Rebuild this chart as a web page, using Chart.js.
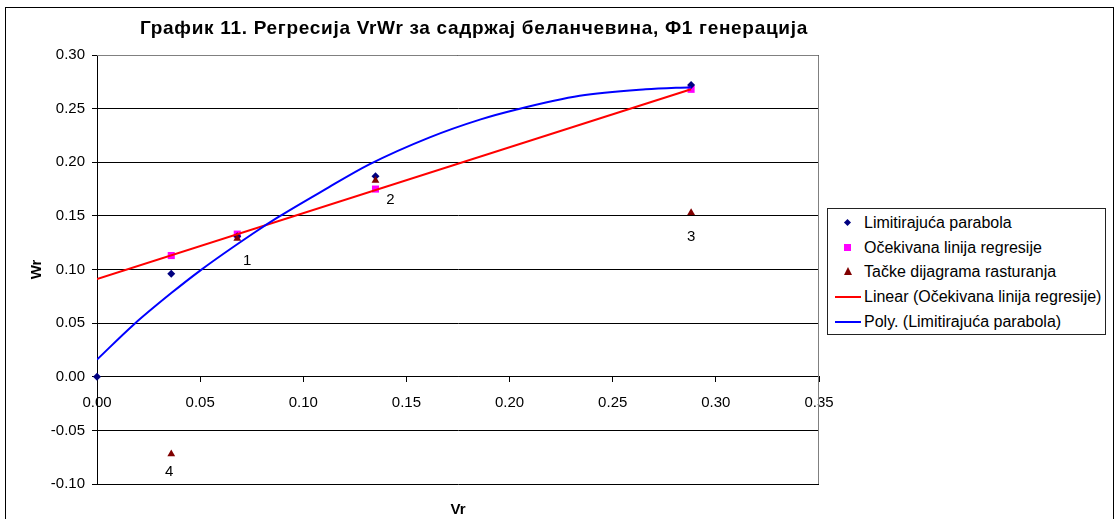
<!DOCTYPE html>
<html>
<head>
<meta charset="utf-8">
<script src="https://cdn.jsdelivr.net/npm/chart.js@4/dist/chart.umd.min.js"></script>
<style>
  body { margin: 0; background: #fff; font-family: Arial, "Liberation Sans", sans-serif; }
  #frame { position: absolute; left: 5px; top: 7px; width: 1107px; height: 520px; border: 1px solid #000; }
  #wrap { position: absolute; left: 0; top: 0; width: 948px; height: 519px; }
  #naslov { position: absolute; left: 0; top: 17px; width: 948px; text-align: center; font-weight: bold; font-size: 19px; line-height: 22px; letter-spacing: 0.7px; color: #000; white-space: nowrap; }
  #legend { position: absolute; left: 827px; top: 208px; width: 277px; height: 125px; border: 1px solid #222; background: #fff; }
  .row { position: absolute; left: 0; height: 20px; font-size: 16px; color: #000; white-space: nowrap; }
  .row span.txt { position: absolute; left: 36px; top: 0; line-height: 20px; }
  .mk { position: absolute; }
</style>
</head>
<body>
<div id="frame"></div>
<div id="wrap"><canvas id="grafik" width="948" height="519"></canvas></div>
<div id="naslov">График 11. Регресија VrWr за садржај беланчевина, Ф1 генерација</div>
<div id="legend"></div>
<script>
// vrijednosti ocitane sa slike
const xLimit = [0, 0.036, 0.068, 0.135, 0.288];
const yLimit = [0, 0.096, 0.131, 0.187, 0.272];

const xExpected = [0.036, 0.068, 0.135, 0.288];
const yExpected = [0.113, 0.133, 0.175, 0.268];

const xScatter = [0.068, 0.135, 0.288, 0.036];
const yScatter = [0.129, 0.183, 0.153, -0.072];
const scatterLabels = ['1', '2', '3', '4'];

const xLinear = [0, 0.288];
const yLinear = [0.091, 0.268];

const xPoly = [0, 0.018, 0.036, 0.050, 0.076, 0.088, 0.110, 0.132, 0.161, 0.186, 0.203, 0.234, 0.266, 0.288];
const yPoly = [0.016, 0.049, 0.078, 0.099, 0.134, 0.149, 0.174, 0.198, 0.223, 0.240, 0.249, 0.262, 0.268, 0.270];

const seriesNames = [
    'Limitirajuća parabola',
    'Očekivana linija regresije',
    'Tačke dijagrama rasturanja',
    'Linear (Očekivana linija regresije)',
    'Poly. (Limitirajuća parabola)'
];

const toPoints = (xs, ys) => xs.map((x, i) => ({ x: x, y: ys[i] }));

// brojevi pored tacaka
const pointLabels = {
    id: 'pointLabels',
    afterDatasetsDraw(chart, args, opts) {
        const meta = chart.getDatasetMeta(2);
        const c = chart.ctx;
        c.save();
        c.font = '15px Arial';
        c.fillStyle = '#000';
        c.textAlign = 'center';
        c.textBaseline = 'middle';
        meta.data.forEach((el, i) => {
            const off = opts.offsets[i] || [0, 20];
            c.fillText(scatterLabels[i], el.x + off[0], el.y + off[1]);
        });
        c.restore();
    }
};

// siva ivica oblasti grafika
const plotBorder = {
    id: 'plotBorder',
    beforeDatasetsDraw(chart) {
        const a = chart.chartArea;
        const c = chart.ctx;
        c.save();
        c.strokeStyle = '#808080';
        c.lineWidth = 1;
        c.beginPath();
        c.moveTo(a.left, a.top + 0.5);
        c.lineTo(a.right - 0.5, a.top + 0.5);
        c.lineTo(a.right - 0.5, a.bottom);
        c.stroke();
        c.restore();
    }
};

const ctx = document.getElementById('grafik').getContext('2d');

const grafik = new Chart(ctx, {
    type: 'scatter',
    data: {
        datasets: [{
            label: seriesNames[0],
            data: toPoints(xLimit, yLimit),
            pointStyle: 'rectRot',
            pointRadius: 4,
            backgroundColor: '#000080',
            borderColor: '#000080',
            borderWidth: 0,
            order: 3,
            clip: false
        }, {
            label: seriesNames[1],
            data: toPoints(xExpected, yExpected),
            pointStyle: 'rect',
            pointRadius: 5,
            backgroundColor: '#FF00FF',
            borderColor: '#FF00FF',
            borderWidth: 0,
            order: 4,
            clip: false
        }, {
            label: seriesNames[2],
            data: toPoints(xScatter, yScatter),
            pointStyle: 'triangle',
            pointRadius: 4.5,
            backgroundColor: '#800000',
            borderColor: '#800000',
            borderWidth: 0,
            order: 2,
            clip: false
        }, {
            label: seriesNames[3],
            data: toPoints(xLinear, yLinear),
            showLine: true,
            pointRadius: 0,
            borderColor: '#FF0000',
            borderWidth: 2,
            order: 1
        }, {
            label: seriesNames[4],
            data: toPoints(xPoly, yPoly),
            showLine: true,
            pointRadius: 0,
            borderColor: '#0000FF',
            borderWidth: 2,
            cubicInterpolationMode: 'monotone',
            order: 0
        }]
    },
    options: {
        responsive: false,
        animation: false,
        devicePixelRatio: 1,
        layout: {
            padding: { left: 0, right: 129, top: 55, bottom: 0 }
        },
        scales: {
            x: {
                type: 'linear',
                position: { y: 0 },
                min: 0,
                max: 0.35,
                grid: {
                    drawOnChartArea: false,
                    drawTicks: true,
                    tickLength: 5,
                    color: '#000'
                },
                border: { display: true, color: '#000' },
                ticks: {
                    stepSize: 0.05,
                    padding: 12,
                    maxRotation: 0,
                    color: '#000',
                    font: { size: 15, family: 'Arial' },
                    callback: (v) => v.toFixed(2)
                }
            },
            y: {
                type: 'linear',
                min: -0.1,
                max: 0.3,
                afterFit: (scale) => { scale.width = 97; },
                grid: {
                    color: '#000',
                    tickLength: 5
                },
                border: { display: true, color: '#000' },
                ticks: {
                    stepSize: 0.05,
                    padding: 7,
                    color: '#000',
                    font: { size: 15, family: 'Arial' },
                    callback: (v) => v.toFixed(2)
                },
                title: {
                    display: true,
                    text: 'Wr',
                    color: '#000',
                    font: { size: 15, weight: 'bold', family: 'Arial' },
                    padding: { top: 28, bottom: 0 }
                }
            }
        },
        plugins: {
            legend: { display: false },
            tooltip: { enabled: false },
            title: { display: false },
            subtitle: {
                display: true,
                position: 'bottom',
                fullSize: false,
                text: 'Vr',
                color: '#000',
                font: { size: 15, weight: 'bold', family: 'Arial' },
                padding: { top: 17, bottom: 0 }
            },
            pointLabels: {
                offsets: [[10, 22], [15, 19], [0, 24], [-2, 18]]
            }
        }
    },
    plugins: [plotBorder, pointLabels]
});

// legenda (HTML), iz podataka o serijama
const legend = document.getElementById('legend');
grafik.data.datasets.forEach((ds, i) => {
    const row = document.createElement('div');
    row.className = 'row';
    row.style.top = (4 + i * 24.7) + 'px';
    row.style.width = '275px';
    const mk = document.createElement('div');
    mk.className = 'mk';
    if (ds.showLine) {
        mk.style.left = '7px';
        mk.style.top = '9px';
        mk.style.width = '26px';
        mk.style.height = '2px';
        mk.style.background = ds.borderColor;
    } else if (ds.pointStyle === 'rectRot') {
        mk.style.left = '17px';
        mk.style.top = '7px';
        mk.style.width = '5px';
        mk.style.height = '5px';
        mk.style.background = ds.backgroundColor;
        mk.style.transform = 'rotate(45deg)';
    } else if (ds.pointStyle === 'rect') {
        mk.style.left = '16px';
        mk.style.top = '6px';
        mk.style.width = '7px';
        mk.style.height = '7px';
        mk.style.background = ds.backgroundColor;
    } else {
        mk.style.left = '16px';
        mk.style.top = '5px';
        mk.style.width = '0';
        mk.style.height = '0';
        mk.style.borderLeft = '4px solid transparent';
        mk.style.borderRight = '4px solid transparent';
        mk.style.borderBottom = '8px solid ' + ds.backgroundColor;
    }
    const txt = document.createElement('span');
    txt.className = 'txt';
    txt.textContent = ds.label;
    row.appendChild(mk);
    row.appendChild(txt);
    legend.appendChild(row);
});
</script>
</body>
</html>
